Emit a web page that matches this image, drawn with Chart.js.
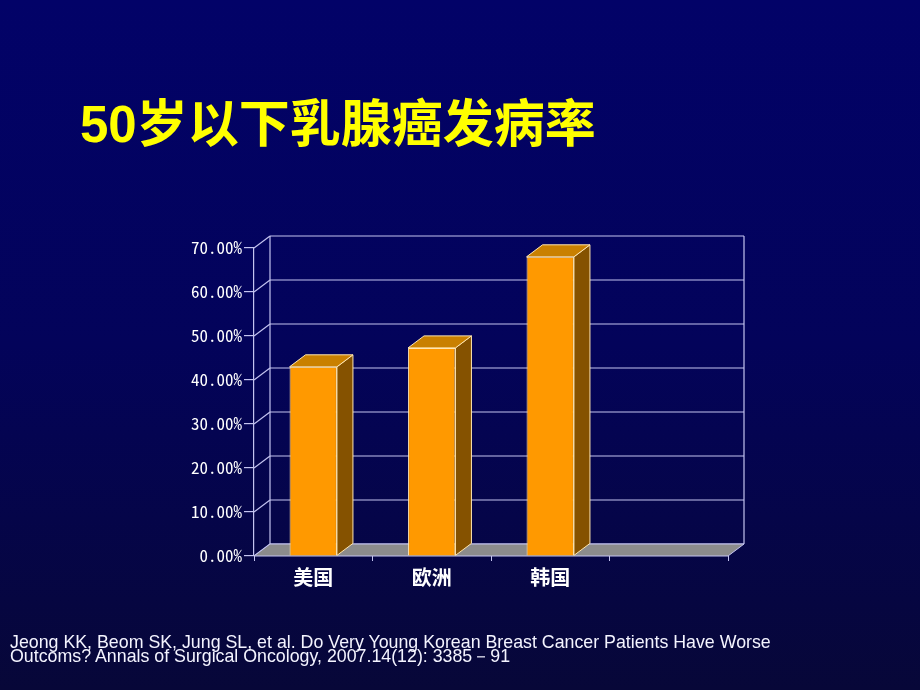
<!DOCTYPE html>
<html><head><meta charset="utf-8">
<script src="https://cdn.jsdelivr.net/npm/chart.js@4.4.0/dist/chart.umd.min.js"></script>
<style>
html,body{margin:0;padding:0;width:920px;height:690px;overflow:hidden;}
body{background:linear-gradient(to bottom,#020268 0%,#03035a 50%,#070738 100%);position:relative;}
#c{position:absolute;left:0;top:0;}
#title{position:absolute;left:80px;top:83px;color:#ffff00;font:bold 51px "Liberation Sans","Noto Sans CJK SC",sans-serif;white-space:nowrap;}
#note{position:absolute;left:10px;top:635px;color:#f4f4ff;font:17.8px/14px "Liberation Sans",Arial,sans-serif;white-space:nowrap;}
</style></head><body>
<canvas id="c" width="920" height="690"></canvas>
<div id="title">50岁以下乳腺癌发病率</div>
<div id="note">Jeong KK, Beom SK, Jung SL, et al. Do Very Young Korean Breast Cancer Patients Have Worse<br>Outcoms? Annals of Surgical Oncology, 2007.14(12): 3385－91</div>
<script>
// ---- data ----
const categories = ['美国', '欧洲', '韩国', ''];
const rates = [43.0, 47.3, 68.0, null];          // percent
const yTickValues = [0, 10, 20, 30, 40, 50, 60, 70];

// ---- style ----
const FRONT = '#ff9900', TOPC = '#c98000', SIDE = '#855200', EDGE = '#ffe6b0';
const GRID = '#c4c4f0', FLOOR = '#8c8c8c';
const DX = 16, DY = -12;
const TICK_FONT = {family: '"Noto Sans Mono CJK SC","DejaVu Sans Mono",monospace', size: 17};
const CAT_FONT = {family: '"Noto Sans CJK SC",sans-serif', size: 20, weight: 'bold'};

function poly(ctx, pts, fill, stroke) {
  ctx.beginPath();
  pts.forEach((p, i) => i ? ctx.lineTo(p[0], p[1]) : ctx.moveTo(p[0], p[1]));
  ctx.closePath();
  if (fill) { ctx.fillStyle = fill; ctx.fill(); }
  if (stroke) { ctx.strokeStyle = stroke; ctx.stroke(); }
}
function seg(ctx, x1, y1, x2, y2) { ctx.beginPath(); ctx.moveTo(x1, y1); ctx.lineTo(x2, y2); ctx.stroke(); }

const threeD = {
  id: 'threeD',
  beforeDatasetsDraw(chart) {
    const {ctx, chartArea: a, scales: {y}} = chart;
    ctx.save();
    ctx.strokeStyle = GRID; ctx.lineWidth = 1.2;
    const top = y.getPixelForValue(y.max), bot = y.getPixelForValue(y.min);
    seg(ctx, a.left + DX, top + DY, a.left + DX, bot + DY);
    seg(ctx, a.right + DX, top + DY, a.right + DX, bot + DY);
    yTickValues.forEach(v => {
      const py = y.getPixelForValue(v);
      seg(ctx, a.left, py, a.left + DX, py + DY);
      seg(ctx, a.left + DX, py + DY, a.right + DX, py + DY);
    });
    ctx.lineWidth = 1;
    poly(ctx, [[a.left, bot], [a.right, bot], [a.right + DX, bot + DY], [a.left + DX, bot + DY]], FLOOR, GRID);
    ctx.restore();
  },
  afterDatasetsDraw(chart) {
    const {ctx} = chart;
    const ds = chart.data.datasets[0].data;
    ctx.save();
    ctx.lineWidth = 1;
    chart.getDatasetMeta(0).data.forEach((bar, i) => {
      if (ds[i] == null) return;
      const {x, y, base, width} = bar.getProps(['x', 'y', 'base', 'width'], true);
      const l = x - width / 2, r = x + width / 2;
      poly(ctx, [[r, y], [r + DX, y + DY], [r + DX, base + DY], [r, base]], SIDE, EDGE);
      poly(ctx, [[l, y], [l + DX, y + DY], [r + DX, y + DY], [r, y]], TOPC, EDGE);
    });
    ctx.restore();
  }
};

new Chart(document.getElementById('c'), {
  type: 'bar',
  data: {
    labels: categories,
    datasets: [{
      data: rates, backgroundColor: FRONT, borderColor: EDGE, borderWidth: 1,
      barPercentage: 0.4, categoryPercentage: 1
    }]
  },
  options: {
    responsive: false, animation: false, devicePixelRatio: 1,
    layout: {padding: {left: 170, right: 192, top: 248, bottom: 60}},
    plugins: {legend: {display: false}, tooltip: {enabled: false}},
    scales: {
      x: {
        grid: {display: true, drawOnChartArea: false, drawTicks: true, tickLength: 5, color: GRID, offset: true},
        border: {display: false},
        ticks: {color: '#ffffff', font: CAT_FONT, padding: 4},
        afterFit(s) { s.height = 74; }
      },
      y: {
        min: 0, max: 70,
        afterBuildTicks(s) { s.ticks = yTickValues.map(v => ({value: v})); },
        ticks: {color: '#ffffff', font: TICK_FONT, padding: 2, callback: v => v.toFixed(2) + '%'},
        grid: {drawOnChartArea: false, tickLength: 10, color: GRID, lineWidth: 1.2},
        border: {display: true, color: GRID, width: 1.2},
        afterFit(s) { s.width = 84; }
      }
    }
  },
  plugins: [threeD]
});
</script>
</body></html>
